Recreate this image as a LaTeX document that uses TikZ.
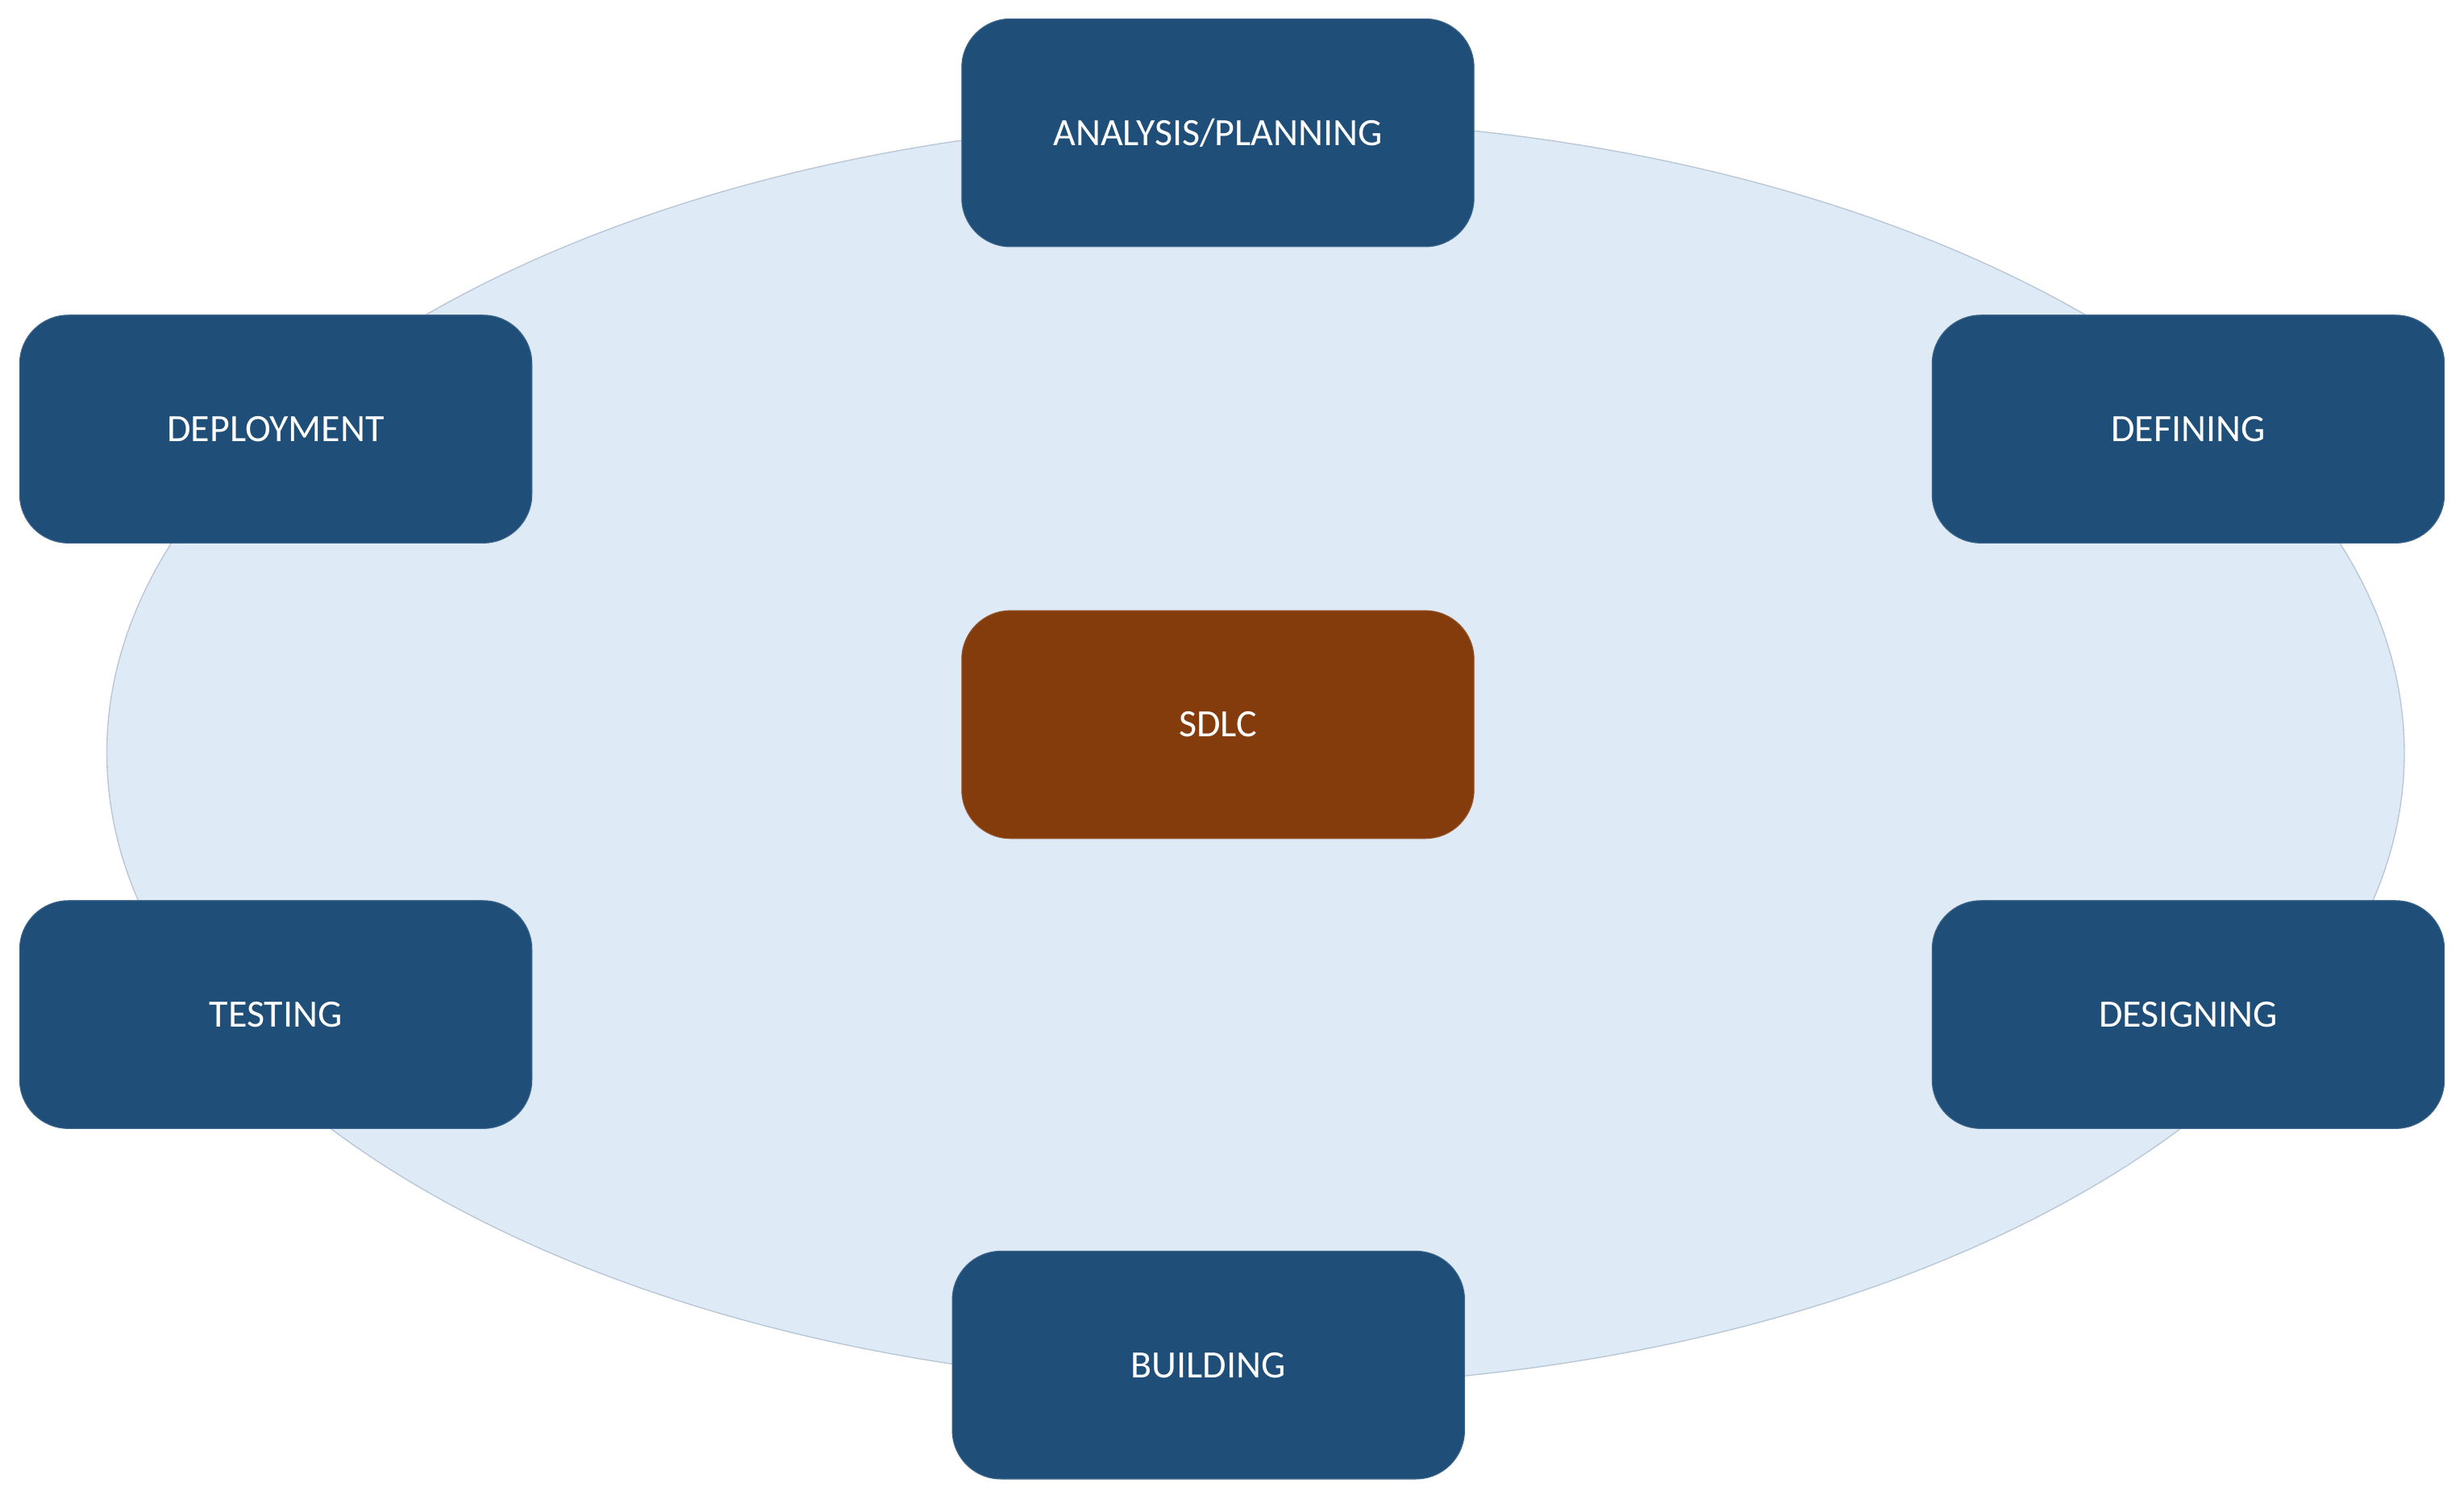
\documentclass[tikz,border=0pt]{standalone}
\usepackage{fontspec}
\setmainfont{Carlito}
\usepackage{tikz}
\usetikzlibrary{shapes.geometric}
\definecolor{phaseblue}{HTML}{1F4E79}
\definecolor{corebrown}{HTML}{843C0C}
\definecolor{cyclefill}{HTML}{DEEAF6}
\definecolor{cycleline}{HTML}{B8C6D6}
\tikzstyle{phase}=[rectangle, rounded corners=0.62cm, fill=phaseblue, draw=phaseblue!85!white, line width=0.3pt, minimum width=6.52cm, minimum height=2.9cm, text=white, font=\fontsize{14}{17}\selectfont]
\tikzstyle{core}=[phase, fill=corebrown, draw=corebrown!85!white]
\tikzstyle{cycle}=[ellipse, fill=cyclefill, draw=cycleline, line width=0.4pt, minimum width=29.24cm, minimum height=16.12cm, inner sep=0pt]

\begin{document}
\begin{tikzpicture}
		   \useasboundingbox (0, 0) rectangle (31.36, 19.08);
		   \begin{scope}
			   \node (ring) at (15.98, 9.5) [cycle] {};
		   \end{scope}
		   \begin{scope}
			   \node (plan) at (15.5, 17.39) [phase] {ANALYSIS/PLANNING};
			   \node (define) at (27.85, 13.62) [phase] {DEFINING};
			   \node (design) at (27.85, 6.17) [phase] {DESIGNING};
			   \node (build) at (15.38, 1.71) [phase] {BUILDING};
			   \node (test) at (3.51, 6.17) [phase] {TESTING};
			   \node (deploy) at (3.51, 13.62) [phase] {DEPLOYMENT};

			   \node (sdlc) at (15.5, 9.86) [core] {SDLC};
		   \end{scope}
	   \end{tikzpicture}
\end{document}
